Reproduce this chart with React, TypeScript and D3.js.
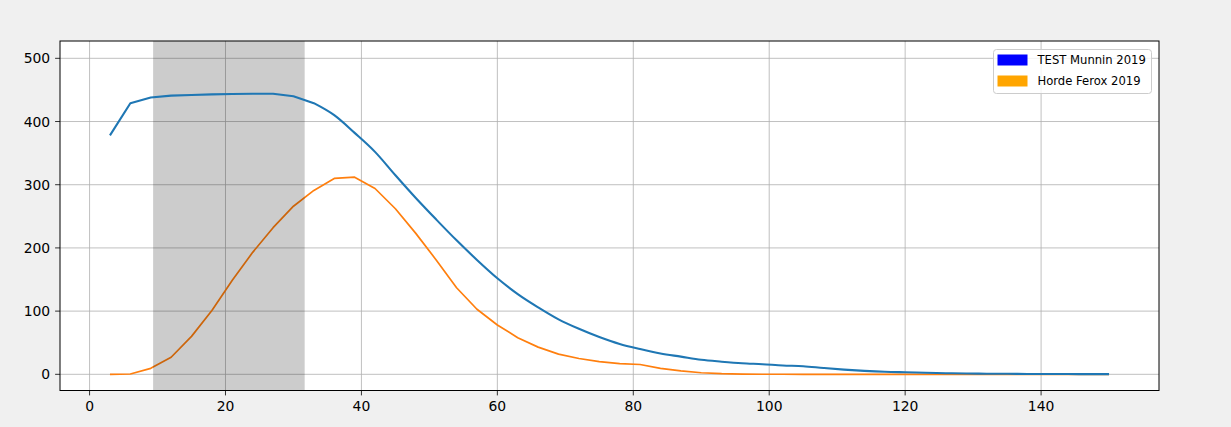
import React from "react";
import * as d3 from "d3";

const xValues = [3,6,9,12,15,18,21,24,27,30,33,36,39,42,45,48,51,54,57,60,63,66,69,72,75,78,81,84,87,90,93,96,99,102,105,108,111,114,117,120,123,126,129,132,135,138,141,144,147,150];
const munnin = [378,429,438,441,442,443,443.5,444,444,440,429,410,382,352,315,279,245,212,181,152,127,106,87,72,59,48,40,33,28,23,20,17.5,16,14,12.8,10,7.5,5.5,4,3.2,2.5,1.8,1.4,1,0.8,0.6,0.5,0.4,0.3,0.3];
const ferox = [0,0.5,9.5,27,60,101,149,193,232,266,291,310,312,294,262,223,181,137,103,78,58,43,32,25,20,17,15.5,9.5,5.5,2.5,1,0.3,0.1,0.1,0,0,0,0,0,0,0,0,0,0,0,0,0,0,0,0];
const xTicks = [0,20,40,60,80,100,120,140];
const yTicks = [0,100,200,300,400,500];
const legendLabels = ["TEST Munnin 2019", "Horde Ferox 2019"];
const legendColors = ["#0000ff", "#ffa500"];
const lineColors = ["#1f77b4", "#ff7f0e"];
const span = [9.35, 31.65];

const W = 1231, H = 427;
const L = 60, R = 1159, T = 41, B = 390.5;
const SPLIT = 10;

export default function App() {
  const x = d3.scaleLinear().domain([-4.35, 157.35]).range([L, R]);
  const y = d3.scaleLinear().domain([-25.6, 527.4]).range([B, T]);
  const pts = munnin.map((v, i) => [xValues[i], v] as [number, number]);
  const smooth = d3.line<[number, number]>().x((d) => x(d[0])).y((d) => y(d[1])).curve(d3.curveMonotoneX);
  const straightP = d3.line<[number, number]>().x((d) => x(d[0])).y((d) => y(d[1]));
  const straight = d3.line<number>().x((_, i) => x(xValues[i])).y((v) => y(v));
  const blueD = (straightP(pts.slice(0, SPLIT + 1)) || "") + (smooth(pts.slice(SPLIT)) || "").replace(/^M/, "L");
  const font = "DejaVu Sans, sans-serif";
  return (
    <svg width={W} height={H} style={{ position: "absolute", left: 0, top: 0 }} fontFamily={font}>
      <rect x={0} y={0} width={W} height={H} fill="#f0f0f0" />
      <defs>
        <clipPath id="plot"><rect x={L} y={T} width={R - L} height={B - T} /></clipPath>
      </defs>
      <rect x={L} y={T} width={R - L} height={B - T} fill="#ffffff" />
      <g clipPath="url(#plot)">
        {xTicks.map((t) => (
          <line key={"gx" + t} x1={x(t)} x2={x(t)} y1={T} y2={B} stroke="#b0b0b0" strokeWidth={0.8} />
        ))}
        {yTicks.map((t) => (
          <line key={"gy" + t} x1={L} x2={R} y1={y(t)} y2={y(t)} stroke="#b0b0b0" strokeWidth={0.8} />
        ))}
        <path d={straight(ferox) || ""} fill="none" stroke={lineColors[1]} strokeWidth={1.7} strokeLinejoin="round" />
        <rect x={x(span[0])} y={T} width={x(span[1]) - x(span[0])} height={B - T} fill="#000000" fillOpacity={0.2} />
        <path d={blueD} fill="none" stroke={lineColors[0]} strokeWidth={2.1} strokeLinejoin="round" />
      </g>
      <rect x={L} y={T} width={R - L} height={B - T} fill="none" stroke="#000" strokeWidth={1} />
      {xTicks.map((t) => (
        <g key={"tx" + t}>
          <line x1={x(t)} x2={x(t)} y1={B} y2={B + 4.9} stroke="#000" strokeWidth={0.8} />
          <text x={x(t)} y={B + 9.8 + 11} textAnchor="middle" fontSize={13.9} fill="#000">{t}</text>
        </g>
      ))}
      {yTicks.map((t) => (
        <g key={"ty" + t}>
          <line x1={L - 4.9} x2={L} y1={y(t)} y2={y(t)} stroke="#000" strokeWidth={0.8} />
          <text x={L - 9.8} y={y(t)} dy="0.36em" textAnchor="end" fontSize={13.9} fill="#000">{t}</text>
        </g>
      ))}
      <g>
        <rect x={993.5} y={49.5} width={158} height={44} rx={3} fill="#ffffff" fillOpacity={0.8} stroke="#cccccc" strokeWidth={1} />
        {legendLabels.map((lab, i) => (
          <g key={"lg" + i}>
            <rect x={997.5} y={54.5 + i * 21} width={30} height={11} fill={legendColors[i]} />
            <text x={1037.5} y={60 + i * 21} dy="0.36em" fontSize={11.6} fill="#000">{lab}</text>
          </g>
        ))}
      </g>
    </svg>
  );
}
